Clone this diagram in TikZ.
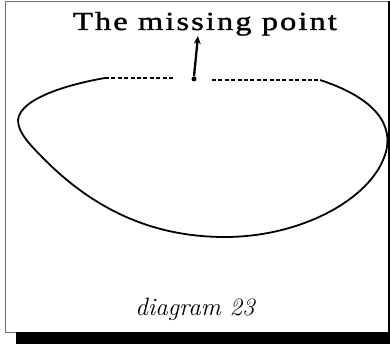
\documentclass[tikz,border=0pt]{standalone}
\usepackage{fontspec}
\usetikzlibrary{arrows.meta}
\newfontfamily\mdheadfont[FakeStretch=1.25,LetterSpace=8,FakeBold=1.5]{Liberation Serif}
\definecolor{mdInk}{HTML}{000000}
\definecolor{mdFrame}{HTML}{6E6E6E}
\tikzset{
  md frame/.style={draw=mdFrame, line width=0.8pt},
  md shadow/.style={fill=mdInk, draw=none},
  md curve/.style={draw=mdInk, line width=1.8pt, line join=round},
  md gap/.style={draw=mdInk, line width=1.1pt, dash pattern=on 4pt off 2.4pt},
  md dot/.style={circle, fill=mdInk, minimum size=5pt, inner sep=0pt},
  md arrow/.style={draw=mdInk, line width=2.3pt, -{Stealth[length=8pt,width=7pt]}},
  md title/.style={font=\mdheadfont\fontsize{26}{30}\selectfont, inner sep=0pt, anchor=base},
  md caption/.style={font=\fontsize{25}{30}\selectfont\itshape, inner sep=0pt, anchor=base},
}

\begin{document}
\begin{tikzpicture}[x=1pt, y=-1pt]
  \useasboundingbox (0,0) rectangle (390,344);

  % frame with its shadow
  \draw[md frame] (5.5,1.5) rectangle (388,332);
  \fill[md shadow] (16,332) rectangle (390,344);
  \fill[md shadow] (388,1.5) rectangle (390,332);

  % the closed curve, open at the top
  \coordinate (left end) at (105,78);
  \coordinate (right end) at (320,80);
  \draw[md curve] (left end)
    .. controls (70,84) and (20,98) .. (18,120)
    .. controls (18,132) and (28,143) .. (45,160)
    .. controls (100,215) and (160,237) .. (225,237)
    .. controls (300,237) and (370,200) .. (385,155)
    .. controls (395,125) and (375,98) .. (right end);

  % dashed gap and the missing point
  \node[md dot] (gap) at (194,79) {};
  \coordinate (gap left) at (175,78);
  \coordinate (gap right) at (212,80);
  \draw[md gap] (left end) -- (gap left);
  \draw[md gap] (gap right) -- (right end);

  \node[md title] (title) at (205,30) {The missing point};
  \coordinate (tip) at (198,36);
  \draw[md arrow] (gap.north) -- (tip);

  \node[md caption] (caption) at (195,315) {diagram 23};
\end{tikzpicture}
\end{document}
